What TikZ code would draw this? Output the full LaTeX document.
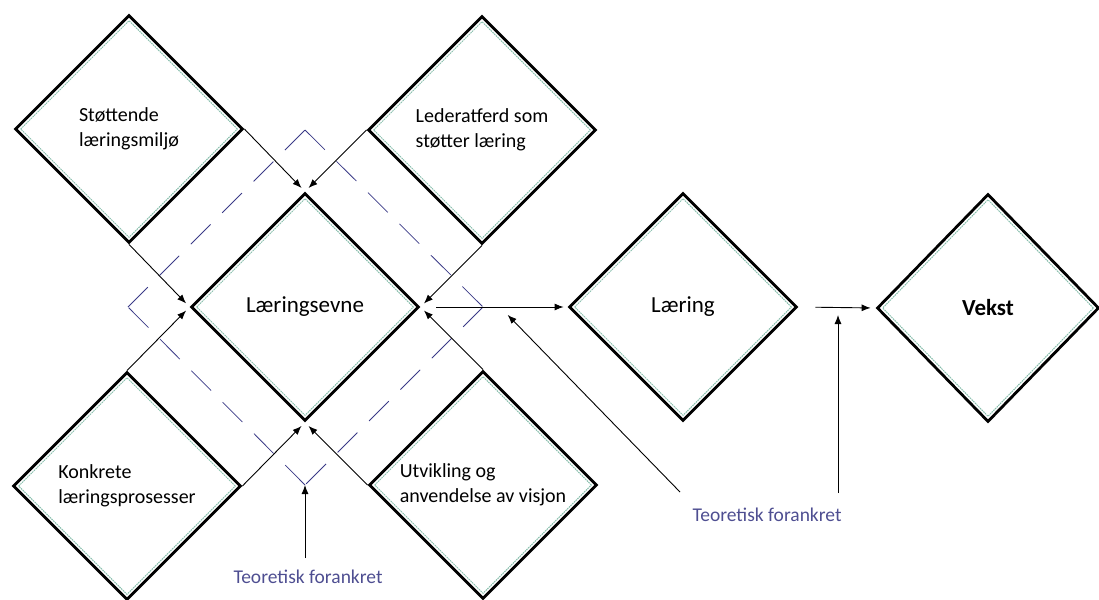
\documentclass[tikz,border=0pt]{standalone}
\usepackage{fontspec}
\setmainfont{Carlito}
\usetikzlibrary{shapes.geometric,arrows.meta}
\definecolor{inkblue}{RGB}{58,58,135}
\definecolor{labelblue}{RGB}{78,78,145}
\definecolor{rimgreen}{RGB}{135,190,172}
\begin{document}
\begin{tikzpicture}[x=1pt,y=-1pt,
  panel/.style={diamond, draw=black, line width=2.8pt, minimum width=228pt,
    minimum height=228pt, inner sep=0pt},
  rim/.style={diamond, draw=rimgreen, line width=1pt, dash pattern=on 1.6pt off 0.8pt,
    minimum width=217pt, minimum height=217pt, inner sep=0pt},
  small/.style={font=\fontsize{20}{24.5}\selectfont, align=left},
  big/.style={font=\fontsize{23}{28}\selectfont},
  arr/.style={-{Latex[length=9pt,width=7pt]}, line width=0.9pt, black},
  frame/.style={draw=inkblue, line width=0.75pt, dash pattern=on 28pt off 16.4pt},
  note/.style={text=labelblue, font=\fontsize{19.5}{23}\selectfont}
]
\useasboundingbox (0,0) rectangle (1099,599);

% dashed frame around the central diamond
\coordinate (ft) at (305,130);
\coordinate (fr) at (483,307);
\coordinate (fb) at (305,485);
\coordinate (fl) at (128,307);
\draw[frame] (ft) -- (fr);
\draw[frame] (fr) -- (fb);
\draw[frame] (fb) -- (fl);
\draw[frame] (fl) -- (ft);

% diamonds
\node[panel, small] (A) at (129,129) {Støttende\\læringsmiljø};
\node[rim] (Ar) at (A) {};
\node[panel, small] (B) at (482,130) {Lederatferd som\\støtter læring};
\node[rim] (Br) at (B) {};
\node[panel, big] (C) at (305,307) {Læringsevne};
\node[rim] (Cr) at (C) {};
\node[panel, small] (D) at (127,486) {Konkrete\\læringsprosesser};
\node[rim] (Dr) at (D) {};
\node[panel, small] (E) at (483,485) {Utvikling og\\anvendelse av visjon};
\node[rim] (Er) at (E) {};
\node[panel, big] (F) at (683,307) {Læring};
\node[rim] (Fr) at (F) {};
\node[panel, big, font=\fontsize{23}{28}\selectfont\bfseries,
  minimum width=222pt] (G) at (988,308) {Vekst};
\node[rim, minimum width=211pt] (Gr) at (G) {};

% arrows into the central diamond
\draw[arr, shorten >=5pt] (A.east) -- (C.north);
\draw[arr, shorten >=5pt] (B.west) -- (C.north);
\draw[arr, shorten >=5pt] (B.south) -- (C.east);
\draw[arr, shorten >=5pt] (E.north) -- (C.east);
\draw[arr, shorten >=5pt] (A.south) -- (C.west);
\draw[arr, shorten >=5pt] (D.north) -- (C.west);
\draw[arr, shorten >=5pt] (D.east) -- (C.south);
\draw[arr, shorten >=5pt] (E.west) -- (C.south);

% main chain
\draw[arr, shorten <=16pt, shorten >=4pt] (C.east) -- (F.west);
\draw[arr, shorten <=17pt, shorten >=5pt] (F.east) -- (G.west);

% labels with their arrows
\node[note] (n1) at (308,577) {Teoretisk forankret};
\node[note] (n2) at (767,515) {Teoretisk forankret};
\coordinate (s1) at (680,492);
\coordinate (h1) at (500,307);
\coordinate (s2) at (838,493);
\coordinate (h2) at (838,308);
\coordinate (s3) at (305,558);
\draw[arr, shorten >=11pt] (s1) -- (h1);
\draw[arr, shorten >=7pt] (s2) -- (h2);
\draw[arr] (s3) -- (fb);
\end{tikzpicture}
\end{document}
